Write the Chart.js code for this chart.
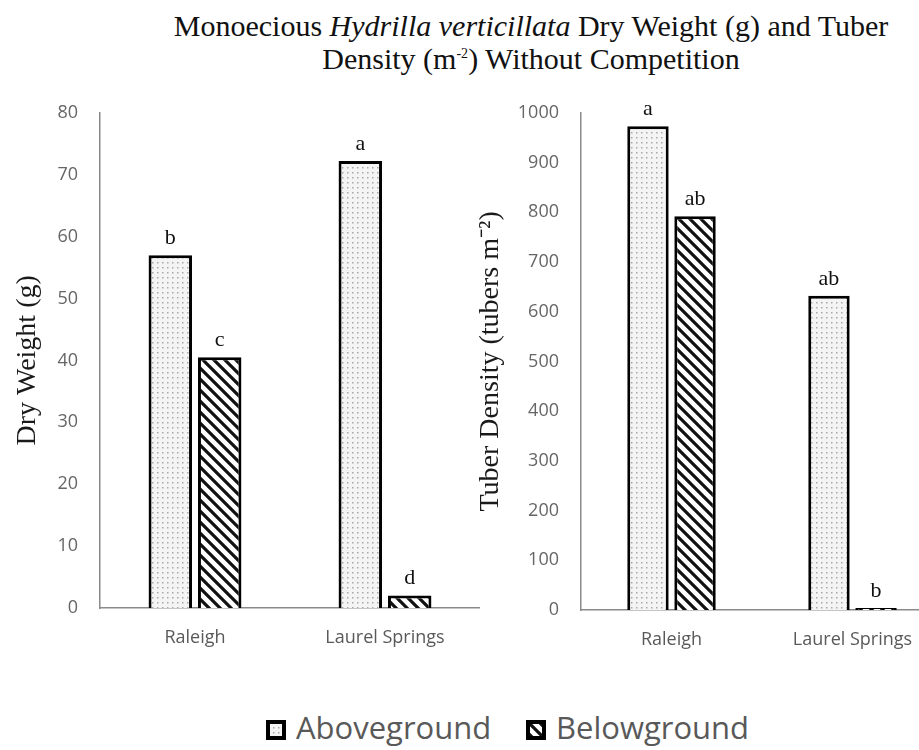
<!DOCTYPE html>
<html>
<head>
<meta charset="utf-8">
<script src="https://cdn.jsdelivr.net/npm/chart.js@4"></script>
<style>
  html, body { margin: 0; padding: 0; background: #fff; overflow: hidden; width: 919px; height: 750px; }
  #title { position: absolute; left: 81px; width: 900px; top: 9px; text-align: center;
    font-family: 'Liberation Serif', serif; font-size: 30px; line-height: 33px; color: #111; }
  #title sup { font-size: 14px; line-height: 0; }
  .box { position: absolute; top: 80px; height: 600px; }
  .lg { position: absolute; top: 706px; font-family: 'Open Sans', sans-serif; font-size: 31px; color: #595959; white-space: nowrap; }
  .lg canvas { vertical-align: -1px; margin-right: 10px; }
</style>
</head>
<body>
<div id="title">Monoecious <i>Hydrilla verticillata</i> Dry Weight (g) and Tuber<br>Density (m<sup>-2</sup>) Without Competition</div>
<div class="box" style="left:0;width:480px"><canvas id="chart1"></canvas></div>
<div class="box" style="left:474px;width:469px"><canvas id="chart2"></canvas></div>
<div class="lg" style="left:266px"><canvas id="lg1" width="20" height="20"></canvas>Aboveground</div>
<div class="lg" style="left:526px"><canvas id="lg2" width="20" height="20"></canvas>Belowground</div>
<script>
const sites = ['Raleigh', 'Laurel Springs']
const seriesNames = ['Aboveground', 'Belowground']

const dryAbove = [57, 72.2]
const dryBelow = [40.5, 2]
const dryLetters = [['b', 'a'], ['c', 'd']]

const tuberAbove = [973, 632]
const tuberBelow = [792, 4]
const tuberLetters = [['a', 'ab'], ['ab', 'b']]

function dotPattern(ctx) {
	const c = document.createElement('canvas')
	c.width = 5
	c.height = 5
	const p = c.getContext('2d')
	p.fillStyle = '#f4f4f4'
	p.fillRect(0, 0, 5, 5)
	p.fillStyle = '#a8a8a8'
	p.fillRect(2, 2, 1.5, 1.5)
	return ctx.createPattern(c, 'repeat')
}

function stripePattern(ctx) {
	const s = 11
	const c = document.createElement('canvas')
	c.width = s
	c.height = s
	const p = c.getContext('2d')
	p.fillStyle = '#fff'
	p.fillRect(0, 0, s, s)
	p.strokeStyle = '#111'
	p.lineWidth = 3.2
	p.beginPath()
	p.moveTo(-2, -2); p.lineTo(s + 2, s + 2)
	p.moveTo(-2, s - 2); p.lineTo(2, s + 2)
	p.moveTo(s - 2, -2); p.lineTo(s + 2, 2)
	p.stroke()
	return ctx.createPattern(c, 'repeat')
}

const letterPlugin = {
	id: 'letters',
	afterDatasetsDraw(chart, args, opts) {
		const ctx = chart.ctx
		ctx.save()
		ctx.font = '22px "Liberation Serif", serif'
		ctx.fillStyle = '#111'
		ctx.textAlign = 'center'
		ctx.textBaseline = 'bottom'
		chart.data.datasets.forEach((ds, i) => {
			chart.getDatasetMeta(i).data.forEach((bar, j) => {
				ctx.fillText(opts.labels[i][j], bar.x, bar.y - 6)
			})
		})
		ctx.restore()
	},
}

function makeChart(id, above, below, letters, maxY, stepY, yTitle, padLeft, yWidth, top, xHeight) {
	const ctx = document.getElementById(id).getContext('2d')
	const chartData = {
		labels: sites,
		datasets: [
			{
				label: seriesNames[0],
				data: above,
				backgroundColor: dotPattern(ctx),
				borderColor: '#000',
				borderWidth: 3,
			},
			{
				label: seriesNames[1],
				data: below,
				backgroundColor: stripePattern(ctx),
				borderColor: '#000',
				borderWidth: 3,
			},
		],
	}

	const optionsData = {
		responsive: true,
		maintainAspectRatio: false,
		animation: false,
		layout: { padding: { top: top, left: padLeft, right: 0, bottom: 0 } },
		datasets: { bar: { categoryPercentage: 0.52, barPercentage: 0.88 } },
		plugins: {
			legend: { display: false },
			tooltip: { enabled: false },
			letters: { labels: letters },
		},
		scales: {
			x: {
				grid: { display: false, drawTicks: false },
				border: { color: '#8a8a8a', width: 1.5 },
				ticks: { color: '#595959', font: { family: 'Open Sans', size: 18 }, padding: 19 },
				afterFit: scale => { scale.height = xHeight },
			},
			y: {
				min: 0,
				max: maxY,
				grid: { display: false, drawTicks: false },
				border: { color: '#8a8a8a', width: 1.5 },
				ticks: {
					stepSize: stepY,
					color: '#666',
					font: { family: 'Open Sans', size: 18 },
					padding: 22,
					callback: value => String(value),
				},
				title: {
					display: true,
					text: yTitle,
					color: '#1a1a1a',
					font: { family: 'Liberation Serif', size: 28 },
					padding: { top: 0, bottom: 0 },
				},
				afterFit: scale => { scale.width = yWidth },
			},
		},
	}

	new Chart(id, { type: 'bar', data: chartData, options: optionsData, plugins: [letterPlugin] })
}

makeChart('chart1', dryAbove, dryBelow, dryLetters, 80, 10, 'Dry Weight (g)', 11, 89, 25, 72)
makeChart('chart2', tuberAbove, tuberBelow, tuberLetters, 1000, 100, 'Tuber Density (tubers m\u207B\u00B2)', 0, 107, 30, 70)

// legend swatches
;[['lg1', dotPattern], ['lg2', stripePattern]].forEach(([id, fn]) => {
	const c = document.getElementById(id).getContext('2d')
	c.fillStyle = fn(c)
	c.fillRect(0, 0, 20, 20)
	c.lineWidth = 4
	c.strokeStyle = '#000'
	c.strokeRect(2, 2, 16, 16)
})
</script>
</body>
</html>
